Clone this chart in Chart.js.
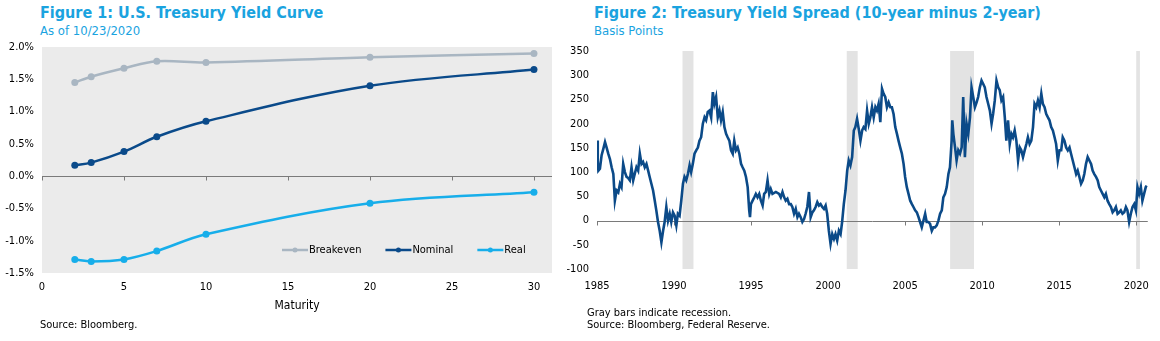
<!DOCTYPE html>
<html>
<head>
<meta charset="utf-8">
<script src="https://cdn.jsdelivr.net/npm/chart.js@4.4.1/dist/chart.umd.min.js"></script>
<style>
  body { margin: 0; width: 1160px; height: 341px; background: #fff; position: relative; overflow: hidden;
         font-family: "DejaVu Sans Condensed", "DejaVu Sans", sans-serif; }
  canvas { position: absolute; top: 0; }
  #curveCanvas { left: 0; }
  #spreadCanvas { left: 555px; }
  .title { position: absolute; color: #1aa3df; font-weight: bold; font-size: 16px; line-height: 20px; white-space: nowrap; }
  .sub { position: absolute; color: #1aa3df; font-size: 13px; line-height: 14px; white-space: nowrap; }
  .note { position: absolute; color: #000; font-size: 11px; line-height: 13px; white-space: nowrap; }
</style>
</head>
<body>
<div class="title" style="left:40px; top:3px;">Figure 1: U.S. Treasury Yield Curve</div>
<div class="sub" style="left:40px; top:24px;">As of 10/23/2020</div>
<div class="title" style="left:594px; top:3px;">Figure 2: Treasury Yield Spread (10-year minus 2-year)</div>
<div class="sub" style="left:594px; top:24px;">Basis Points</div>

<canvas id="curveCanvas" width="560" height="341"></canvas>
<canvas id="spreadCanvas" width="605" height="341"></canvas>

<div class="note" style="left:297px; top:299px; font-size:12px; transform:translateX(-50%);">Maturity</div>
<div class="note" style="left:40px; top:318px;">Source: Bloomberg.</div>
<div class="note" style="left:587px; top:306px;">Gray bars indicate recession.</div>
<div class="note" style="left:587px; top:318px;">Source: Bloomberg, Federal Reserve.</div>

<script>
const FONT = '"DejaVu Sans Condensed", "DejaVu Sans", sans-serif';

// yield curve, 10/23/2020 (percent)
const maturities = [2, 3, 5, 7, 10, 20, 30];
const breakeven = [1.45, 1.54, 1.67, 1.78, 1.76, 1.84, 1.90];
const nominal = [0.17, 0.21, 0.38, 0.61, 0.85, 1.40, 1.65];
const real = [-1.29, -1.32, -1.29, -1.16, -0.90, -0.42, -0.25];
const maturityTicks = [0, 5, 10, 15, 20, 25, 30];

// 10y - 2y spread in basis points, by decimal year
const spreadYears = [
  1985.00, 1985.05, 1985.09, 1985.19, 1985.30, 1985.41, 1985.52, 1985.62, 1985.73, 1985.84, 1985.95,
  1986.06, 1986.16, 1986.27, 1986.38, 1986.49, 1986.59, 1986.70, 1986.81, 1986.92,
  1987.02, 1987.13, 1987.24, 1987.35, 1987.45, 1987.56, 1987.67, 1987.78, 1987.89, 1987.99,
  1988.10, 1988.21, 1988.32, 1988.42, 1988.53, 1988.64, 1988.75, 1988.85, 1988.96,
  1989.07, 1989.18, 1989.29, 1989.39, 1989.50, 1989.61, 1989.72, 1989.82, 1989.93,
  1990.04, 1990.15, 1990.25, 1990.36, 1990.47, 1990.58, 1990.68, 1990.79, 1990.90,
  1991.01, 1991.11, 1991.22, 1991.33, 1991.44, 1991.55, 1991.65, 1991.76, 1991.87, 1991.98,
  1992.08, 1992.19, 1992.30, 1992.41, 1992.52, 1992.62, 1992.73, 1992.84, 1992.95,
  1993.05, 1993.16, 1993.27, 1993.38, 1993.48, 1993.59, 1993.70, 1993.81, 1993.91,
  1994.02, 1994.13, 1994.24, 1994.35, 1994.45, 1994.56, 1994.67, 1994.78, 1994.88, 1994.93, 1994.99,
  1995.10, 1995.21, 1995.31, 1995.42, 1995.53, 1995.64, 1995.75, 1995.85, 1995.96,
  1996.07, 1996.18, 1996.28, 1996.39, 1996.61, 1996.82, 1996.93,
  1997.04, 1997.15, 1997.25, 1997.36, 1997.47, 1997.58, 1997.68, 1997.79, 1997.90,
  1998.01, 1998.11, 1998.22, 1998.33, 1998.44, 1998.54, 1998.65, 1998.76, 1998.87, 1998.98,
  1999.08, 1999.19, 1999.30, 1999.41, 1999.51, 1999.62, 1999.73, 1999.84, 1999.94,
  2000.05, 2000.16, 2000.27, 2000.38, 2000.48, 2000.59, 2000.70, 2000.81, 2000.91,
  2001.02, 2001.13, 2001.24, 2001.34, 2001.45, 2001.56, 2001.67, 2001.77, 2001.88, 2001.99,
  2002.10, 2002.21, 2002.31, 2002.42, 2002.53, 2002.64, 2002.74, 2002.85, 2002.96,
  2003.07, 2003.17, 2003.28, 2003.39, 2003.50, 2003.60, 2003.71, 2003.82, 2003.93,
  2004.04, 2004.14, 2004.25, 2004.36, 2004.47, 2004.57, 2004.68, 2004.79, 2004.90,
  2005.00, 2005.11, 2005.22, 2005.33, 2005.44, 2005.54, 2005.65, 2005.76, 2005.87, 2005.97,
  2006.08, 2006.19, 2006.30, 2006.40, 2006.51, 2006.62, 2006.73, 2006.83, 2006.94,
  2007.05, 2007.16, 2007.27, 2007.38, 2007.48, 2007.59, 2007.70, 2007.81, 2007.91,
  2008.02, 2008.06, 2008.13, 2008.24, 2008.34, 2008.45, 2008.56, 2008.67, 2008.77, 2008.88, 2008.99,
  2009.10, 2009.21, 2009.31, 2009.42, 2009.53, 2009.64, 2009.74, 2009.85, 2009.96,
  2010.07, 2010.17, 2010.28, 2010.39, 2010.50, 2010.61, 2010.71, 2010.82, 2010.93,
  2011.04, 2011.14, 2011.25, 2011.36, 2011.47, 2011.57, 2011.68, 2011.79, 2011.90,
  2012.00, 2012.11, 2012.22, 2012.33, 2012.44, 2012.54, 2012.65, 2012.76, 2012.87, 2012.97,
  2013.08, 2013.19, 2013.30, 2013.40, 2013.51, 2013.62, 2013.73, 2013.84, 2013.94,
  2014.05, 2014.16, 2014.27, 2014.37, 2014.48, 2014.59, 2014.70, 2014.80, 2014.91,
  2015.02, 2015.13, 2015.23, 2015.34, 2015.45, 2015.56, 2015.67, 2015.77, 2015.88, 2015.99,
  2016.10, 2016.20, 2016.31, 2016.42, 2016.53, 2016.63, 2016.74, 2016.85, 2016.96,
  2017.07, 2017.17, 2017.28, 2017.39, 2017.50, 2017.60, 2017.71, 2017.82, 2017.93,
  2018.03, 2018.14, 2018.25, 2018.36, 2018.47, 2018.57, 2018.68, 2018.79, 2018.90,
  2019.00, 2019.11, 2019.22, 2019.33, 2019.43, 2019.54, 2019.65, 2019.76, 2019.87, 2019.98,
  2020.08, 2020.19, 2020.30, 2020.40, 2020.51, 2020.62, 2020.68
];
const spreadBps = [
  165, 124, 103, 107, 135, 148, 162, 151, 138, 127, 110,
  96, 41, 62, 58, 76, 69, 117, 100, 90,
  88, 83, 110, 83, 96, 110, 103, 138, 117, 121,
  110, 117, 103, 90, 76, 62, 41, 21, -3,
  -21, -45, -21, -3, 28, 0, 14, -3, 17,
  10, -10, 14, 10, 41, 76, 90, 83, 96,
  114, 100, 117, 138, 145, 151, 165, 172, 200, 213,
  207, 224, 227, 213, 265, 241, 255, 213, 227,
  207, 224, 193, 179, 172, 165, 145, 138, 165,
  145, 151, 138, 117, 110, 103, 90, 69, 21, 7, 34,
  41, 48, 55, 48, 55, 41, 31, 55, 59,
  83, 55, 65, 55, 59, 55, 48,
  59, 48, 41, 45, 34, 34, 28, 14, 24,
  7, 14, 7, -3, 3, 14, 28, 59, 7, 17,
  21, 28, 38, 31, 34, 28, 24, 31, 14,
  -21, -48, -28, -38, -28, -41, -21, -28, -3,
  34, 62, 103, 124, 114, 131, 186, 193, 210, 189,
  165, 186, 193, 189, 227, 200, 213, 234, 213,
  234, 227, 241, 203, 272, 262, 255, 234, 244,
  234, 234, 220, 193, 179, 165, 151, 138, 117,
  90, 69, 55, 41, 34, 28, 21, 17, 7, -3,
  -14, 0, 14, -3, -3, -7, -21, -14, -14,
  -10, 0, 14, 21, 48, 55, 69, 96, 110,
  165, 207, 179, 151, 124, 145, 138, 151, 255, 131, 200,
  179, 213, 275, 255, 234, 244, 255, 275, 289,
  282, 275, 255, 241, 227, 200, 220, 248, 289,
  275, 269, 248, 255, 213, 165, 207, 158, 179,
  172, 186, 165, 124, 151, 145, 131, 145, 158, 172,
  158, 165, 193, 241, 234, 248, 234, 262, 241,
  234, 220, 213, 207, 193, 186, 172, 158, 124,
  145, 145, 172, 165, 151, 145, 151, 138, 124, 110,
  96, 103, 90, 76, 83, 96, 117, 131, 124,
  117, 103, 96, 90, 83, 69, 62, 55, 48,
  55, 41, 34, 28, 17, 21, 28, 14, 17,
  21, 14, 17, 28, 21, -3, 14, 28, 34, 21,
  69, 55, 69, 41, 55, 69, 72
];
const yearTicks = [1985, 1990, 1995, 2000, 2005, 2010, 2015, 2020];

// NBER recessions, decimal years
const recessionStarts = [1990.55, 2001.21, 2007.92, 2020.00];
const recessionEnds = [1991.26, 2001.92, 2009.47, 2020.24];

Chart.defaults.font.family = FONT;
Chart.defaults.font.size = 11;
Chart.defaults.color = '#000';

// axis line drawn through y = 0 with short ticks hanging below it
function zeroAxis(id) {
  return {
    id,
    beforeDatasetsDraw(chart) {
      const { ctx, chartArea: a, scales: { x, y } } = chart;
      const y0 = Math.round(y.getPixelForValue(0)) + 0.5;
      ctx.save();
      ctx.strokeStyle = '#7a7a7a';
      ctx.lineWidth = 1;
      ctx.beginPath();
      ctx.moveTo(a.left, y0);
      ctx.lineTo(a.right, y0);
      x.ticks.forEach((t) => {
        const px = Math.round(x.getPixelForValue(t.value)) + 0.5;
        ctx.moveTo(px, y0);
        ctx.lineTo(px, y0 + 4);
      });
      ctx.stroke();
      ctx.restore();
    }
  };
}

const plotBackground = {
  id: 'plotBackground',
  beforeDraw(chart) {
    const { ctx, chartArea: a } = chart;
    ctx.save();
    ctx.fillStyle = '#ebebeb';
    ctx.fillRect(a.left, a.top, a.right - a.left, a.bottom - a.top);
    ctx.restore();
  }
};

const curveLegend = {
  id: 'curveLegend',
  afterDatasetsDraw(chart) {
    const ctx = chart.ctx;
    let x = 282;
    const y = 250;
    ctx.save();
    ctx.font = `11px ${FONT}`;
    ctx.textBaseline = 'middle';
    chart.data.datasets.forEach((ds) => {
      ctx.strokeStyle = ds.borderColor;
      ctx.lineWidth = 2.5;
      ctx.beginPath();
      ctx.moveTo(x, y);
      ctx.lineTo(x + 26, y);
      ctx.stroke();
      ctx.fillStyle = ds.borderColor;
      ctx.beginPath();
      ctx.arc(x + 13, y, 2.5, 0, Math.PI * 2);
      ctx.fill();
      ctx.fillStyle = '#000';
      ctx.fillText(ds.label, x + 27, y);
      x += 27 + ctx.measureText(ds.label).width + 24;
    });
    ctx.restore();
  }
};

const recessionBars = {
  id: 'recessionBars',
  beforeDatasetsDraw(chart) {
    const { ctx, chartArea: a, scales: { x } } = chart;
    ctx.save();
    ctx.fillStyle = '#e3e3e3';
    recessionStarts.forEach((start, i) => {
      const x1 = x.getPixelForValue(start);
      const x2 = x.getPixelForValue(recessionEnds[i]);
      ctx.fillRect(x1, a.top, x2 - x1, a.bottom - a.top);
    });
    ctx.restore();
  }
};

function curveSeries(label, values, color) {
  return {
    label,
    data: maturities.map((m, i) => ({ x: m, y: values[i] })),
    borderColor: color,
    backgroundColor: color,
    borderWidth: 2.5,
    pointRadius: 3.5,
    pointBorderWidth: 0,
    tension: 0.35
  };
}

new Chart(document.getElementById('curveCanvas'), {
  type: 'line',
  data: {
    datasets: [
      curveSeries('Breakeven', breakeven, '#a9b6c2'),
      curveSeries('Nominal', nominal, '#0a4a8a'),
      curveSeries('Real', real, '#17aeea')
    ]
  },
  options: {
    responsive: false,
    animation: false,
    layout: { padding: { left: 0, top: 47, right: 8, bottom: 48 } },
    plugins: { legend: { display: false }, tooltip: { enabled: false } },
    scales: {
      x: {
        type: 'linear',
        min: 0,
        max: 31.1,
        afterBuildTicks: (s) => { s.ticks = maturityTicks.map((v) => ({ value: v })); },
        afterFit: (s) => { s.height = 20; },
        grid: { display: false, drawTicks: false },
        border: { display: false },
        ticks: { padding: 8, maxRotation: 0 }
      },
      y: {
        min: -1.5,
        max: 2.0,
        afterFit: (s) => { s.width = 42; },
        grid: { display: false, drawTicks: false },
        border: { display: false },
        ticks: { stepSize: 0.5, padding: 8, callback: (v) => v.toFixed(1) + '%' }
      }
    }
  },
  plugins: [plotBackground, zeroAxis('curveAxis'), curveLegend]
});

new Chart(document.getElementById('spreadCanvas'), {
  type: 'line',
  data: {
    datasets: [{
      label: '10y-2y',
      data: spreadYears.map((yr, i) => ({ x: yr, y: spreadBps[i] })),
      borderColor: '#0b4a88',
      borderWidth: 2.6,
      pointRadius: 0,
      tension: 0
    }]
  },
  options: {
    responsive: false,
    animation: false,
    layout: { padding: { left: 0, top: 51, right: 9, bottom: 42 } },
    plugins: { legend: { display: false }, tooltip: { enabled: false } },
    scales: {
      x: {
        type: 'linear',
        min: 1985,
        max: 2020.75,
        afterBuildTicks: (s) => { s.ticks = yearTicks.map((v) => ({ value: v })); },
        afterFit: (s) => { s.height = 30; },
        grid: { display: false, drawTicks: false },
        border: { display: false },
        ticks: { padding: 11, maxRotation: 0, callback: (v) => String(v) }
      },
      y: {
        min: -100,
        max: 350,
        afterFit: (s) => { s.width = 42; },
        grid: { display: false, drawTicks: false },
        border: { display: false },
        ticks: { stepSize: 50, padding: 8 }
      }
    }
  },
  plugins: [recessionBars, zeroAxis('spreadAxis')]
});
</script>
</body>
</html>
